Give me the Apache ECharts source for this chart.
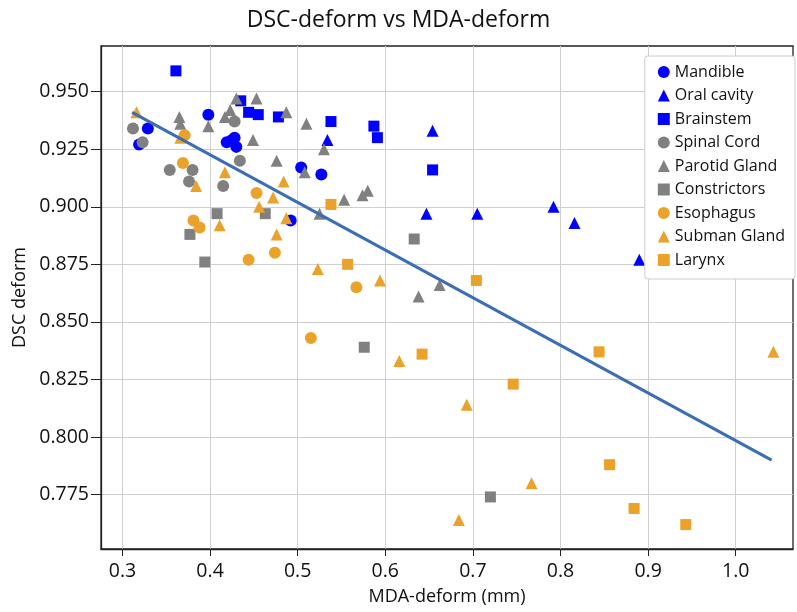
<!DOCTYPE html>
<html><head><meta charset="utf-8">
<script src="https://cdn.jsdelivr.net/npm/echarts@6/dist/echarts.min.js"></script>
<style>html,body{margin:0;padding:0;background:#fff}#c{width:797px;height:612px}</style>
</head><body><div id="c"></div>
<script>
const xTicks = [0.3, 0.4, 0.5, 0.6, 0.7, 0.8, 0.9, 1.0];
const yTicks = [0.775, 0.800, 0.825, 0.850, 0.875, 0.900, 0.925, 0.950];

const mandibleX = [0.319, 0.329, 0.398, 0.419, 0.425, 0.428, 0.430, 0.504, 0.527, 0.492];
const mandibleY = [0.927, 0.934, 0.940, 0.928, 0.929, 0.930, 0.926, 0.917, 0.914, 0.894];

const oralX = [0.534, 0.654, 0.647, 0.705, 0.792, 0.816, 0.890];
const oralY = [0.929, 0.933, 0.897, 0.897, 0.900, 0.893, 0.877];

const brainX = [0.361, 0.435, 0.444, 0.455, 0.478, 0.538, 0.587, 0.591, 0.654];
const brainY = [0.959, 0.946, 0.941, 0.940, 0.939, 0.937, 0.935, 0.930, 0.916];

const spinalX = [0.312, 0.323, 0.428, 0.434, 0.354, 0.380, 0.376, 0.415];
const spinalY = [0.934, 0.928, 0.937, 0.920, 0.916, 0.916, 0.911, 0.909];

const parotidX = [0.365, 0.366, 0.398, 0.423, 0.417, 0.430, 0.453, 0.449, 0.487, 0.510, 0.530, 0.476, 0.508, 0.525, 0.553, 0.574, 0.580, 0.638, 0.662];
const parotidY = [0.939, 0.936, 0.935, 0.942, 0.939, 0.947, 0.947, 0.929, 0.941, 0.936, 0.925, 0.920, 0.915, 0.897, 0.903, 0.905, 0.907, 0.861, 0.866];

const constrX = [0.408, 0.377, 0.394, 0.463, 0.633, 0.576, 0.720];
const constrY = [0.897, 0.888, 0.876, 0.897, 0.886, 0.839, 0.774];

const esophX = [0.371, 0.369, 0.381, 0.388, 0.453, 0.444, 0.474, 0.567, 0.515];
const esophY = [0.931, 0.919, 0.894, 0.891, 0.906, 0.877, 0.880, 0.865, 0.843];

const submanX = [0.316, 0.366, 0.384, 0.417, 0.411, 0.484, 0.472, 0.456, 0.487, 0.476, 0.523, 0.594, 0.616, 0.693, 0.767, 0.684, 1.043];
const submanY = [0.941, 0.930, 0.909, 0.915, 0.892, 0.911, 0.904, 0.900, 0.895, 0.888, 0.873, 0.868, 0.833, 0.814, 0.780, 0.764, 0.837];

const larynxX = [0.538, 0.557, 0.704, 0.642, 0.746, 0.844, 0.856, 0.884, 0.943];
const larynxY = [0.901, 0.875, 0.868, 0.836, 0.823, 0.837, 0.788, 0.769, 0.762];

const trendX = [0.311, 1.041];
const trendY = [0.941, 0.790];

const BLUE = '#0000ff', GRAY = '#808080', ORANGE = '#eba22a';
const FONT = '"Open Sans", sans-serif';

function pts(xs, ys) { return xs.map((x, i) => [x, ys[i]]); }

const groups = [
  { name: 'Mandible', xs: mandibleX, ys: mandibleY, color: BLUE, symbol: 'circle', size: 12 },
  { name: 'Oral cavity', xs: oralX, ys: oralY, color: BLUE, symbol: 'triangle', size: 12 },
  { name: 'Brainstem', xs: brainX, ys: brainY, color: BLUE, symbol: 'rect', size: 11 },
  { name: 'Spinal Cord', xs: spinalX, ys: spinalY, color: GRAY, symbol: 'circle', size: 12 },
  { name: 'Parotid Gland', xs: parotidX, ys: parotidY, color: GRAY, symbol: 'triangle', size: 12 },
  { name: 'Constrictors', xs: constrX, ys: constrY, color: GRAY, symbol: 'rect', size: 11 },
  { name: 'Esophagus', xs: esophX, ys: esophY, color: ORANGE, symbol: 'circle', size: 12 },
  { name: 'Subman Gland', xs: submanX, ys: submanY, color: ORANGE, symbol: 'triangle', size: 12 },
  { name: 'Larynx', xs: larynxX, ys: larynxY, color: ORANGE, symbol: 'rect', size: 11 }
];

const series = groups.map(g => ({
  name: g.name, type: 'scatter', data: pts(g.xs, g.ys),
  symbol: g.symbol, symbolSize: g.size,
  itemStyle: { color: g.color, opacity: 1 }
}));
series.push({
  name: 'trend', type: 'line', data: pts(trendX, trendY), symbol: 'none',
  lineStyle: { color: '#3c6eb4', width: 3 }, z: 10, silent: true
});

const chart = echarts.init(document.getElementById('c'));
chart.setOption({
  animation: false,
  backgroundColor: '#fff',
  title: {
    text: 'DSC-deform vs MDA-deform', left: 'center', top: 4,
    textStyle: { fontFamily: FONT, fontSize: 23, fontWeight: 'normal', color: '#111' }
  },
  grid: { left: 101, right: 4, top: 46, bottom: 63, show: true, borderColor: '#222', borderWidth: 1.3 },
  legend: {
    data: groups.map(g => ({ name: g.name, icon: g.symbol })),
    orient: 'vertical', right: 2, top: 56,
    itemWidth: 12, itemHeight: 12, itemGap: 7.5,
    padding: [8, 10, 11, 13],
    backgroundColor: '#fff', borderColor: '#cccccc', borderWidth: 1, borderRadius: 3,
    textStyle: { fontFamily: FONT, fontSize: 16, color: '#111' }
  },
  xAxis: {
    type: 'value', min: 0.2755, max: 1.0654,
    name: 'MDA-deform (mm)', nameLocation: 'middle', nameGap: 39,
    nameTextStyle: { fontFamily: FONT, fontSize: 18, color: '#111' },
    axisLine: { show: true, lineStyle: { color: '#222', width: 1.3 } },
    axisTick: { show: true, length: 7, customValues: xTicks, lineStyle: { color: '#222' } },
    axisLabel: { customValues: xTicks, margin: 12, fontFamily: FONT, fontSize: 19.5, color: '#111',
      formatter: v => v.toFixed(1) },
    splitLine: { show: true, lineStyle: { color: '#cfcfcf', width: 1 } }
  },
  yAxis: {
    type: 'value', min: 0.7514, max: 0.9698,
    name: 'DSC deform', nameLocation: 'middle', nameGap: 72,
    nameTextStyle: { fontFamily: FONT, fontSize: 18, color: '#111' },
    axisLine: { show: true, lineStyle: { color: '#222', width: 1.3 } },
    axisTick: { show: true, length: 10, customValues: yTicks, lineStyle: { color: '#222' } },
    axisLabel: { customValues: yTicks, margin: 12, fontFamily: FONT, fontSize: 19.5, color: '#111',
      formatter: v => v.toFixed(3) },
    splitLine: { show: true, lineStyle: { color: '#cfcfcf', width: 1 } }
  },
  series: series
});
</script>
</body></html>
